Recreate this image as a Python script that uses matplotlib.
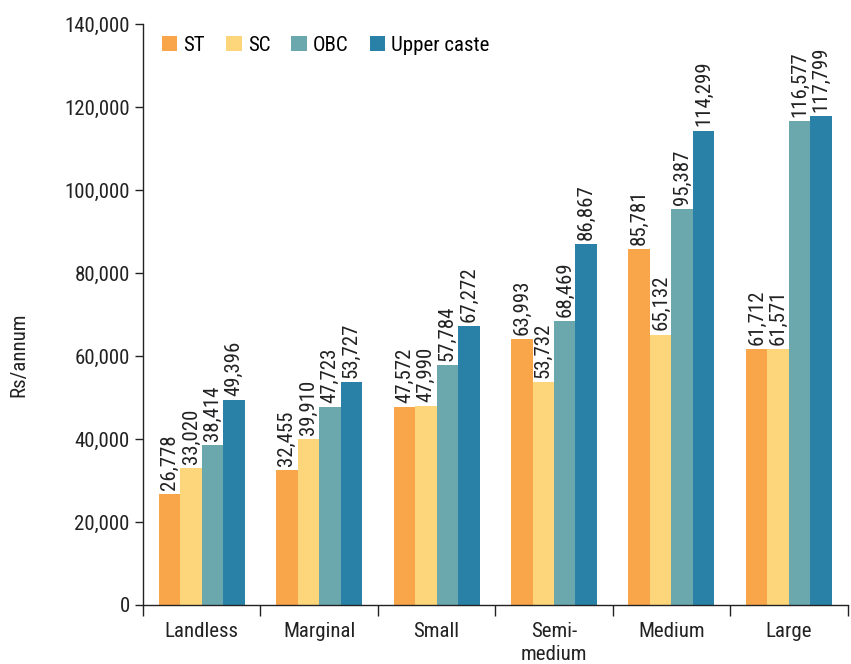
import matplotlib
matplotlib.use("Agg")
import matplotlib.pyplot as plt
import numpy as np
from matplotlib.ticker import FuncFormatter

plt.rcParams['font.family'] = ['Roboto Condensed', 'DejaVu Sans']

categories = ["Landless", "Marginal", "Small", "Semi-\nmedium", "Medium", "Large"]
series_names = ["ST", "SC", "OBC", "Upper caste"]
st = [26778, 32455, 47572, 63993, 85781, 61712]
sc = [33020, 39910, 47990, 53732, 65132, 61571]
obc = [38414, 47723, 57784, 68469, 95387, 116577]
upper = [49396, 53727, 67272, 86867, 114299, 117799]
y_ticks = [0, 20000, 40000, 60000, 80000, 100000, 120000, 140000]

colors = ["#F9A54A", "#FDD67C", "#6BA8AE", "#2A81A8"]
series = [st, sc, obc, upper]
text_col = '#222222'

fig = plt.figure(figsize=(8.51, 6.64), dpi=100)
ax = fig.add_axes([0.168, 0.089, 0.828, 0.875])

x = np.arange(len(categories))
width = 0.183
offsets = (np.arange(4) - 1.5) * width

for vals, name, col, off in zip(series, series_names, colors, offsets):
    bars = ax.bar(x + off, vals, width, color=col, label=name, edgecolor='none')
    for b, v in zip(bars, vals):
        ax.annotate(f"{v:,}", (b.get_x() + b.get_width() / 2, v),
                    xytext=(0, 3), textcoords='offset points',
                    rotation=90, ha='center', va='bottom',
                    fontsize=15, color=text_col)

ax.set_xlim(-0.5, len(categories) - 0.5)
ax.set_ylim(0, 140000)
ax.set_yticks(y_ticks)
ax.yaxis.set_major_formatter(FuncFormatter(lambda v, p: f"{int(v):,}"))
ax.tick_params(axis='y', labelsize=15, colors=text_col, length=6, width=1)

# category boundaries as tick marks, labels centred under each group
ax.set_xticks(np.arange(len(categories) + 1) - 0.5)
ax.set_xticklabels([])
ax.tick_params(axis='x', which='major', length=8, width=1, color=text_col)
ax.set_xticks(x, minor=True)
ax.set_xticklabels(categories, minor=True, fontsize=15, color=text_col,
                   linespacing=1.3)
ax.tick_params(axis='x', which='minor', length=0, pad=12)

for s in ['top', 'right']:
    ax.spines[s].set_visible(False)
for s in ['left', 'bottom']:
    ax.spines[s].set_color(text_col)
    ax.spines[s].set_linewidth(1)

fig.text(0.022, 0.465, "Rs/annum", rotation=90, ha='center', va='center',
         fontsize=15, color=text_col)

ax.legend(loc='upper left', bbox_to_anchor=(0.0, 1.012), ncol=4, frameon=False,
          fontsize=15, handlelength=0.75, handleheight=0.75, handletextpad=0.3,
          columnspacing=1.0)

fig.savefig("out.png", dpi=100)
